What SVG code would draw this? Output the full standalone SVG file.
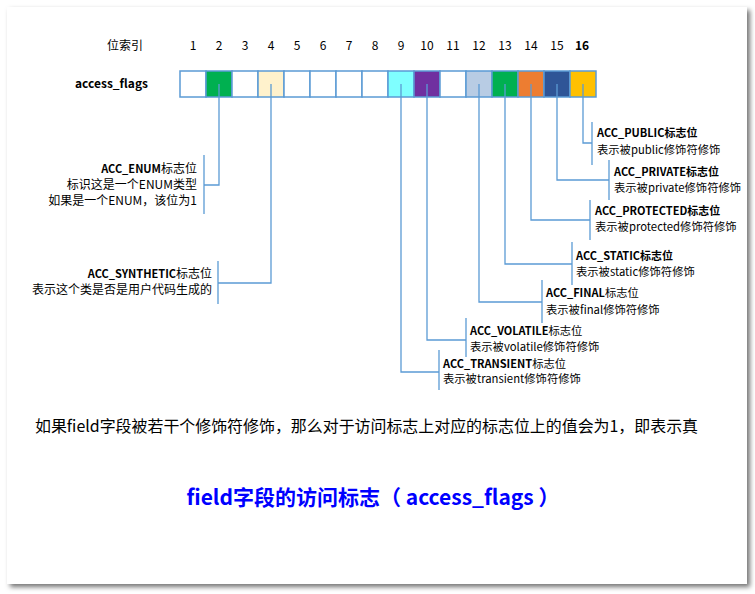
<svg xmlns="http://www.w3.org/2000/svg" width="755" height="594" viewBox="0 0 755 594">
<defs>
<filter id="sh" x="-5%" y="-5%" width="110%" height="110%">
<feDropShadow dx="3" dy="3" stdDeviation="2.5" flood-color="#000" flood-opacity="0.55"/>
</filter>
<style>
text{font-family:"Noto Sans CJK SC","Liberation Sans",sans-serif;fill:#000;}
.n{font-size:12px;text-anchor:middle;}
.l{font-size:11.3px;}
.w{font-size:12px;}
.e{text-anchor:end;}
.b{font-weight:bold;font-size:11px;}
.cell{stroke:#5B9BD5;stroke-width:1.5;}
.c{fill:none;stroke:#5B9BD5;stroke-width:1.3;}
</style>
</defs>
<rect x="0" y="0" width="755" height="594" fill="#fff"/>
<rect x="7" y="7" width="740" height="577" fill="#fff" filter="url(#sh)"/>

<g id="header">
<text x="125" y="50" class="n">位索引</text>
<text x="193" y="50" class="n">1</text>
<text x="219" y="50" class="n">2</text>
<text x="245" y="50" class="n">3</text>
<text x="271" y="50" class="n">4</text>
<text x="297" y="50" class="n">5</text>
<text x="323" y="50" class="n">6</text>
<text x="349" y="50" class="n">7</text>
<text x="375" y="50" class="n">8</text>
<text x="401" y="50" class="n">9</text>
<text x="427" y="50" class="n">10</text>
<text x="453" y="50" class="n">11</text>
<text x="479" y="50" class="n">12</text>
<text x="505" y="50" class="n">13</text>
<text x="531" y="50" class="n">14</text>
<text x="557" y="50" class="n">15</text>
<text x="582" y="50" class="n" font-weight="bold">16</text>
<text x="75" y="88" style="font-size:12px;font-weight:bold" textLength="73" lengthAdjust="spacingAndGlyphs">access_flags</text>
</g>

<g id="cells">
<rect class="cell" x="180" y="71" width="26" height="26" fill="#fff"/>
<rect class="cell" x="206" y="71" width="26" height="26" fill="#00B050"/>
<rect class="cell" x="232" y="71" width="26" height="26" fill="#fff"/>
<rect class="cell" x="258" y="71" width="26" height="26" fill="#FFF2CC"/>
<rect class="cell" x="284" y="71" width="26" height="26" fill="#fff"/>
<rect class="cell" x="310" y="71" width="26" height="26" fill="#fff"/>
<rect class="cell" x="336" y="71" width="26" height="26" fill="#fff"/>
<rect class="cell" x="362" y="71" width="26" height="26" fill="#fff"/>
<rect class="cell" x="388" y="71" width="26" height="26" fill="#7FFFFF"/>
<rect class="cell" x="414" y="71" width="26" height="26" fill="#7030A0"/>
<rect class="cell" x="440" y="71" width="26" height="26" fill="#fff"/>
<rect class="cell" x="466" y="71" width="26" height="26" fill="#B8CCE4"/>
<rect class="cell" x="492" y="71" width="26" height="26" fill="#00B050"/>
<rect class="cell" x="518" y="71" width="26" height="26" fill="#ED7D31"/>
<rect class="cell" x="544" y="71" width="26" height="26" fill="#2F5597"/>
<rect class="cell" x="570" y="71" width="26" height="26" fill="#FFC000"/>
</g>

<g id="connectors">
<path class="c" d="M219 84V185H204M204 155V214"/>
<path class="c" d="M271 84V283H218M218 261V304"/>
<path class="c" d="M583 84V143H592M592 122V165"/>
<path class="c" d="M557 84V180H609M609 160V200"/>
<path class="c" d="M531 84V220H590M590 200V240"/>
<path class="c" d="M505 84V264H572M572 242V285"/>
<path class="c" d="M479 84V302H542M542 280V323"/>
<path class="c" d="M427 84V340H466M466 318V357"/>
<path class="c" d="M401 84V372H439M439 350V390"/>
</g>

<g id="enum">
<text x="197" y="173" class="w e"><tspan class="b">ACC_ENUM</tspan>标志位</text>
<text x="197" y="189" class="w e">标识这是一个ENUM类型</text>
<text x="197" y="205" class="w e">如果是一个ENUM，该位为1</text>
</g>
<g id="synthetic">
<text x="212" y="278" class="w e"><tspan class="b">ACC_SYNTHETIC</tspan>标志位</text>
<text x="212" y="294" class="w e">表示这个类是否是用户代码生成的</text>
</g>
<g id="public">
<text x="597" y="137" class="b">ACC_PUBLIC标志位</text>
<text x="597" y="154" class="l">表示被public修饰符修饰</text>
</g>
<g id="private">
<text x="614" y="176" class="b">ACC_PRIVATE标志位</text>
<text x="614" y="192" class="l">表示被private修饰符修饰</text>
</g>
<g id="protected">
<text x="595" y="215" class="b">ACC_PROTECTED标志位</text>
<text x="595" y="231" class="l">表示被protected修饰符修饰</text>
</g>
<g id="static">
<text x="576" y="260" class="b">ACC_STATIC标志位</text>
<text x="576" y="276" class="l">表示被static修饰符修饰</text>
</g>
<g id="final">
<text x="546" y="297" class="l"><tspan class="b">ACC_FINAL</tspan>标志位</text>
<text x="546" y="314" class="l">表示被final修饰符修饰</text>
</g>
<g id="volatile">
<text x="470" y="335" class="l"><tspan class="b">ACC_VOLATILE</tspan>标志位</text>
<text x="470" y="351" class="l">表示被volatile修饰符修饰</text>
</g>
<g id="transient">
<text x="443" y="368" class="l"><tspan class="b">ACC_TRANSIENT</tspan>标志位</text>
<text x="443" y="383" class="l">表示被transient修饰符修饰</text>
</g>

<g id="notes">
<text x="35" y="432" style="font-size:16px" textLength="663" lengthAdjust="spacingAndGlyphs">如果field字段被若干个修饰符修饰，那么对于访问标志上对应的标志位上的值会为1，即表示真</text>
<text x="373" y="505" style="font-size:21px;font-weight:bold;fill:#0000FF;text-anchor:middle">field字段的访问标志（ access_flags ）</text>
</g>
</svg>
